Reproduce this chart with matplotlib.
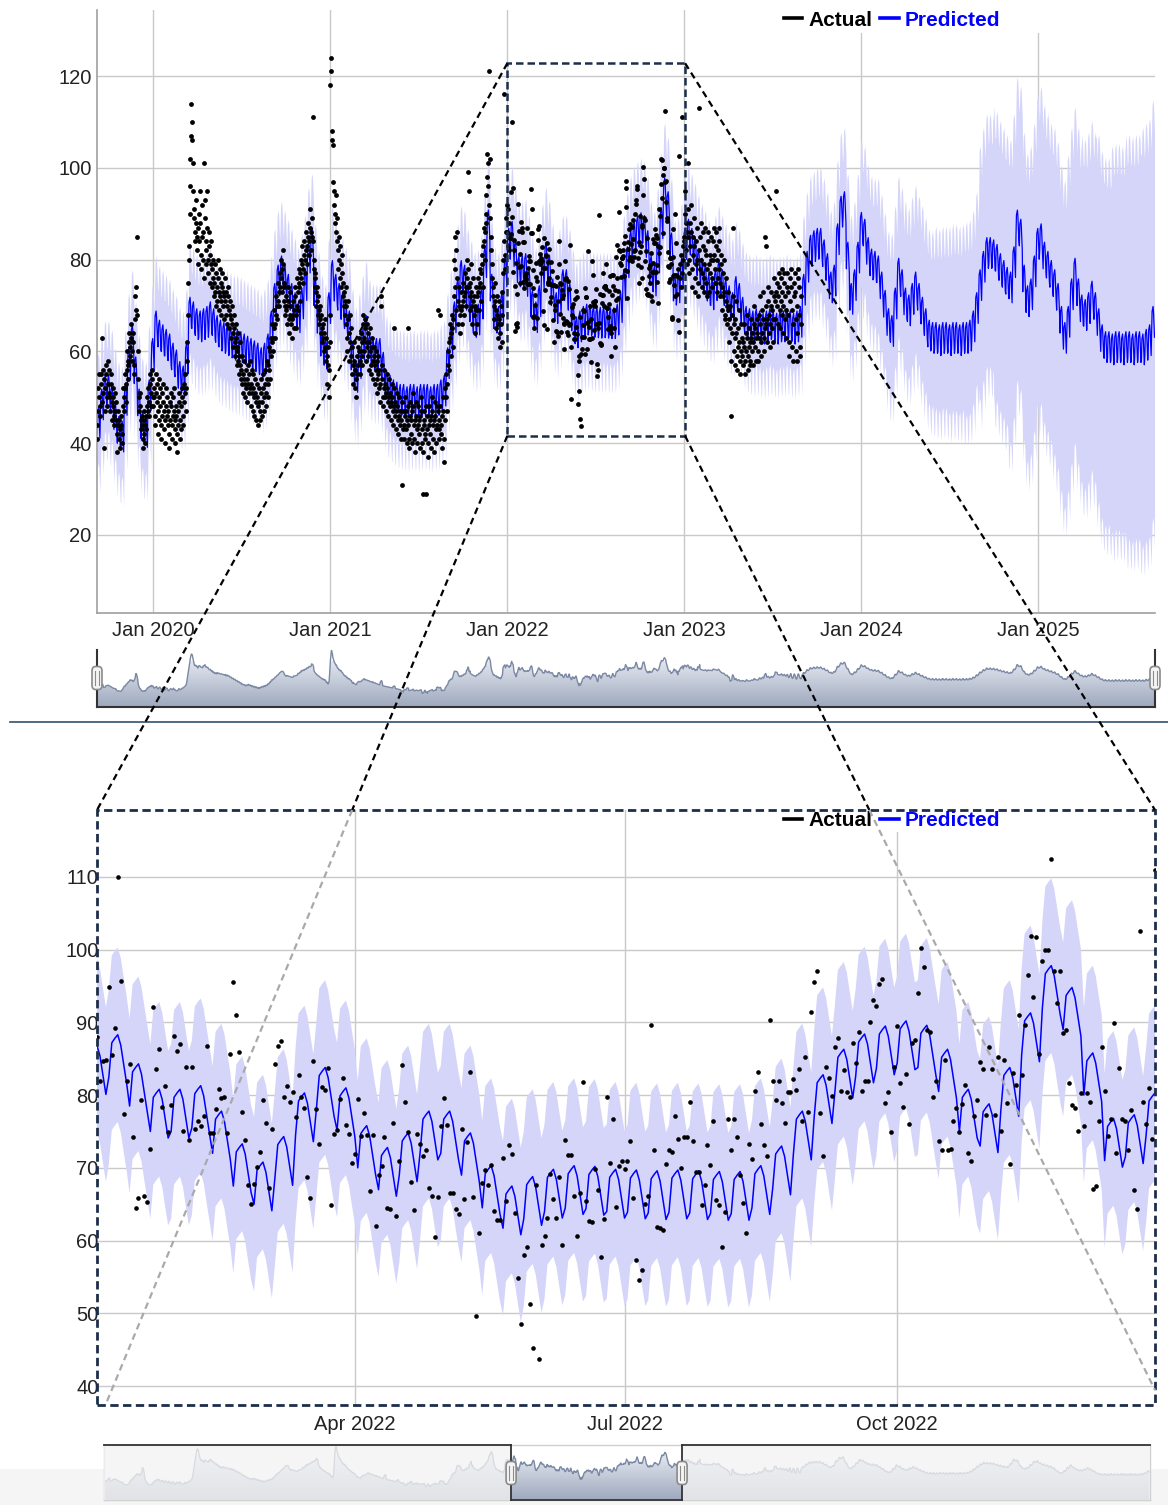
import numpy as np
import pandas as pd
import matplotlib
matplotlib.use("Agg")
import matplotlib.pyplot as plt
import matplotlib.dates as mdates
import matplotlib.transforms as mtransforms
from matplotlib.patches import Rectangle, FancyBboxPatch
from matplotlib.lines import Line2D
from matplotlib.colors import LinearSegmentedColormap

plt.rcParams["font.family"] = ["Liberation Sans", "DejaVu Sans"]

# ---------------- data ----------------
SERIES_START = "2019-09-07"
AXIS_START, AXIS_END = "2019-09-07", "2025-08-30"
ZOOM_START, ZOOM_END = "2022-01-04", "2022-12-27"
BOX_X = ("2022-01-01", "2023-01-03")
BOX_Y = (41.6, 122.8)

# weekly level of the predicted series (one value per week from SERIES_START)
pred_weekly_level = [
    45, 49, 52, 52, 50, 46, 43, 42, 50, 58,
    63, 56, 49, 44, 43, 51, 60, 66, 64, 63,
    62, 61, 59, 57.5, 55, 54, 59, 69, 68, 66.5,
    66, 66.5, 67, 68, 66.5, 65, 64, 63.5, 63, 62.5,
    62, 62, 61.5, 61, 60.5, 60, 59.5, 59, 58, 59,
    61, 66, 72, 76, 78, 76, 74, 72, 70, 68,
    71, 75, 81, 84, 73, 67, 62, 60, 70, 77,
    74, 72, 70, 68, 66, 59, 55, 58, 62, 65,
    61, 60, 60, 60, 57, 53, 52, 51, 50.5, 50,
    50, 49.5, 50, 50, 49.5, 50, 50, 50, 49.5, 50,
    50, 51, 52, 58, 63, 68, 73, 77, 76, 72,
    69.5, 67, 67.5, 71, 80, 88, 74, 68, 67, 70,
    78, 84, 85.5, 81.5, 78, 78, 78.5, 75, 70.5, 68,
    71.5, 77.5, 81, 78.2, 73, 70, 72, 75, 75, 72,
    67.5, 64.7, 66, 67, 67.5, 67.4, 67, 66.9, 66.8, 66.9,
    66.8, 66.7, 66.7, 67.5, 70.2, 75, 80, 83.5, 85.6, 86.7,
    87.4, 86.8, 83.5, 78, 76, 81, 88.5, 95, 92, 83,
    74, 74.5, 77.5, 84, 86, 84, 82, 79.5, 77.5, 76,
    74, 73, 75, 77, 75, 73, 71.5, 70, 73.5, 72,
    69, 67, 66.5, 66, 66.5, 66, 65.5, 66, 66.5, 66,
    65.5, 66, 66, 66.5, 66, 65.5, 66, 67, 74, 79,
    82.5, 83.5, 84, 84, 81.5, 78.5, 74.5, 76, 85, 91,
    92, 81, 72, 75, 81, 87.5, 86, 82, 79.5, 79,
    78, 74.5, 70.5, 66.5, 65, 71, 77.5, 75, 71, 69.5,
    72, 74.5, 72, 69, 66.5, 64, 63.5, 63.5, 63, 63.5,
    63.5, 63, 63.5, 63.5, 63, 63.5, 63.5, 64, 66, 70,
    75, 79, 82, 82, 81.5, 80.5, 78.5, 77, 75.5, 74.5,
    80, 88, 86, 76, 71.5, 73, 78, 84, 85, 81,
    79, 77, 75, 72, 67, 63.5, 67, 73, 77.5, 73,
    69.5, 68.5, 70, 72.5, 70, 66.5, 63, 61.5, 61.5, 61,
    61.5, 61.5, 61, 61.5, 61.5, 61, 61.5, 61.5, 61, 62,
    63, 67,
]
# weekday offsets of the predicted line: Fri, Sat, Sun, Mon, Tue, Wed, Thu
pred_weekday_offset = [-3.9, -3.0, 1.7, 2.3, 2.8, 1.4, -1.3]

# half-widths of the uncertainty band per month (Sep 2019 ... Aug 2025)
band_upper_width = [12.0] * 48 + [13, 13.5, 14, 15, 16, 17, 18, 19, 20, 21, 21.5, 22,
                                  27, 29, 29, 29, 30, 31, 33, 35, 38, 41, 43, 45]
band_lower_width = [12.0] * 48 + [13, 13.5, 14, 15, 16, 16.5, 17, 17.5, 18, 18.5, 19, 20,
                                  28, 34, 37, 38, 39, 40, 40, 41, 42, 43, 45, 46]

# actual daily values
actual_2019 = [  # Sep 7 - Dec 31
    41, 44, 47, 52, 55, 50, 46, 48, 53, 55, 63, 49, 51, 56, 54, 39, 47, 52, 57, 55, 50, 48, 53, 58,
    56, 51, 47, 50, 55, 53, 49, 45, 48, 52, 50, 46, 44, 47, 51, 49, 45, 42, 38, 44, 47, 45, 41, 39, 43, 46, 44, 40, 42, 48, 52,
    50, 47, 52, 55, 53, 49, 56, 60, 58, 54, 57, 62, 64, 59, 61, 66, 63, 58, 60, 64, 62, 57, 55, 67, 72, 69, 74, 85, 68, 60,
    54, 50, 47, 51, 48, 45, 43, 46, 44, 41, 39, 45, 47, 42, 40, 44, 46, 43, 48, 50, 47, 52, 49, 46, 53, 55, 51, 48, 54, 56, 50,
]
actual_2020 = [
    48, 52, 50, 46, 44, 51, 55, 53, 49, 47, 42, 45, 50, 54, 52, 48, 44, 41, 46, 51, 49, 53, 47, 43, 40, 45, 48, 52, 50, 46, 44,
    47, 42, 39, 45, 49, 51, 48, 44, 41, 46, 50, 47, 52, 45, 40, 43, 48, 46, 42, 38, 44, 47, 51, 49, 45, 41, 43, 48, 52,
    50, 46, 44, 49, 53, 55, 51, 47, 52, 58, 62, 68, 75, 80, 83, 90, 96, 102, 107, 114, 110, 106, 101, 95, 89, 91, 86, 84, 88, 93, 85,
    82, 87, 79, 84, 90, 95, 88, 81, 78, 85, 92, 86, 80, 76, 101, 93, 89, 84, 79, 82, 95, 87, 80, 77, 83, 86, 81, 75, 79, 84,
    78, 74, 80, 76, 72, 75, 79, 73, 70, 77, 74, 71, 76, 80, 73, 69, 72, 78, 75, 71, 68, 74, 77, 73, 70, 67, 72, 76, 71, 68, 73,
    70, 66, 72, 74, 69, 65, 68, 71, 67, 63, 66, 70, 64, 61, 65, 68, 62, 59, 63, 66, 60, 57, 61, 64, 58, 55, 59, 62, 57, 54,
    56, 59, 53, 51, 55, 58, 54, 50, 53, 56, 52, 49, 54, 57, 53, 51, 55, 58, 52, 48, 53, 56, 51, 47, 52, 55, 50, 46, 51, 54, 49,
    45, 50, 53, 48, 44, 49, 52, 47, 45, 51, 54, 49, 46, 52, 55, 50, 47, 53, 56, 51, 48, 54, 58, 53, 50, 57, 61, 56, 54, 60, 63,
    59, 62, 66, 63, 60, 65, 69, 66, 63, 68, 72, 70, 67, 71, 75, 73, 70, 74, 77, 80, 76, 73, 78, 82, 79, 75, 71, 74, 70, 68,
    72, 69, 66, 70, 74, 71, 67, 64, 68, 73, 70, 66, 63, 67, 71, 68, 65, 69, 74, 72, 68, 65, 70, 76, 73, 69, 75, 78, 74, 71, 77,
    80, 76, 79, 83, 78, 75, 81, 84, 80, 77, 82, 86, 83, 79, 85, 88, 84, 81, 87, 91, 86, 82, 85, 89, 111, 84, 80, 78, 76, 74,
    77, 73, 70, 74, 71, 68, 72, 69, 66, 70, 67, 64, 68, 65, 62, 66, 63, 60, 64, 67, 61, 58, 63, 59, 53, 57, 61, 50, 56, 62, 68,
]
actual_2021 = [
    118, 124, 121, 108, 106, 97, 105, 92, 95, 88, 90, 94, 86, 84, 89, 82, 78, 85, 80, 76, 83, 79, 74, 81, 77, 72, 75, 70, 73, 68, 71,
    66, 70, 74, 63, 60, 67, 71, 64, 58, 62, 68, 65, 59, 55, 61, 57, 53, 58, 62, 56, 52, 50, 54, 59, 55, 57, 61, 60,
    63, 58, 55, 60, 64, 62, 57, 59, 66, 68, 63, 60, 65, 67, 62, 58, 61, 66, 64, 59, 56, 62, 65, 60, 57, 55, 61, 63, 58, 54, 59,
    61, 57, 53, 56, 60, 58, 54, 51, 55, 59, 56, 52, 49, 53, 70, 72, 57, 54, 50, 48, 52, 56, 53, 50, 47, 51, 55, 52, 49, 46,
    50, 54, 51, 48, 45, 49, 53, 50, 47, 44, 48, 65, 52, 49, 46, 43, 47, 51, 48, 45, 42, 46, 50, 47, 44, 41, 45, 49, 31, 43, 47,
    44, 41, 46, 50, 47, 43, 40, 45, 65, 48, 44, 41, 39, 46, 49, 45, 42, 40, 47, 51, 48, 44, 41, 38, 45, 49, 46, 43, 40, 44,
    48, 45, 42, 39, 46, 50, 47, 43, 40, 38, 29, 44, 47, 45, 41, 42, 48, 29, 46, 43, 40, 37, 44, 48, 45, 42, 39, 46, 50, 47, 44,
    41, 38, 45, 49, 46, 43, 40, 44, 48, 69, 47, 43, 41, 45, 68, 48, 44, 42, 39, 46, 50, 47, 36, 41, 45, 52, 55, 50, 47, 53, 57,
    60, 56, 62, 66, 63, 59, 64, 68, 65, 61, 67, 72, 80, 85, 78, 74, 69, 82, 86, 76, 71, 66, 70, 74, 68, 64, 69, 73, 70, 66,
    71, 75, 72, 68, 73, 77, 74, 70, 76, 80, 99, 78, 74, 95, 72, 69, 75, 79, 73, 70, 66, 71, 76, 72, 68, 64, 70, 74, 69, 66, 72,
    76, 73, 69, 74, 78, 75, 71, 77, 81, 79, 74, 83, 87, 84, 80, 86, 90, 88, 94, 98, 103, 96, 101, 92, 121, 102, 89, 85, 82, 79,
    76, 72, 74, 70, 67, 71, 75, 69, 65, 68, 72, 66, 63, 67, 71, 64, 61, 66, 70, 62, 68, 73, 77, 80, 116, 84, 78, 81, 86, 89, 92,
]
actual_2022 = [
    86, 91, 83, 88, 82,
    84.7, 84.8, 94.8, 85.5, 89.2, 110, 95.7, 77.4, 82, 84.3,
    74.3, 64.5, 65.9, 79.3, 66.1, 65.3, 72.6, 92.1, 83.6, 86.3,
    78.4, 81.3, 75, 78.6, 88.1, 86.1, 87, 75.1, 83.8, 73.9,
    83.9, 75.4, 76.4, 75.8, 77.1, 86.8, 74.8, 74.8, 78.1, 80.9,
    79.6, 79.8, 74.8, 85.7, 95.5, 91, 85.9, 77.7, 73.8, 67.6,
    65, 67.8, 70.1, 72.2, 79.3, 76.2, 67.2, 75.3, 84.3, 86.7,
    87.4, 79.8, 81.3, 79, 80.4, 77, 82.8, 79.8, 78.2, 68.7,
    65.8, 84.7, 78.1, 73.3, 81.1, 80.7, 83.7, 64.9, 74.6, 75.2,
    79.4, 82.3, 75.9, 74.7, 70.7, 71.9, 79.4, 74.4, 77.5, 74.5,
    66.8, 74.5, 62, 69, 70.2, 74.2, 64.5, 64.3, 76.2, 63.4,
    71, 84.1, 79, 75, 68.1, 64.2, 74.7, 73.3, 71.7, 72.4,
    67.3, 66.2, 60.5, 66, 75.8, 79.6, 75.9, 66.6, 66.5, 64.3,
    63.6, 75.4, 65.7, 73.5, 83.2, 66, 49.6, 61, 67.9, 69.7,
    67.6, 70.4, 64.1, 62.8, 62.8, 71.4, 65.4, 73.2, 71.9, 63.8,
    54.8, 48.5, 58, 59.1, 51.3, 45.2, 67.6, 43.7, 59.4, 60.6,
    63.1, 69.1, 65.7, 63.1, 68.8, 59.4, 73.9, 71.8, 71.8, 66.2,
    60.6, 66.5, 81.8, 65.4, 62.7, 62.6, 69.8, 67, 57.8, 63,
    79.7, 70.7,
    76.7, 64.6, 70.2, 70.9, 69.9, 70.9, 73.7, 65.9, 57.3, 54.6,
    55.9, 65, 66.1, 89.7, 72.5, 61.9, 61.7, 61.4, 70.6, 72.4,
    72.2, 77.1, 74, 70, 74.2, 74.2, 79, 73.7, 69.4, 69.4,
    64.9, 67.6, 73.2, 70.4, 76.5, 65.6, 64.9, 59.1, 64, 76.7,
    72.4, 76.7, 74.2, 69, 65.2, 61, 73.3, 71.2, 80.6, 83.2,
    76, 73.2, 71.7, 90.3, 82, 79.3, 81.9, 78.9, 76.2, 80.4,
    80.4, 82.2, 80.7, 83.6, 76.5, 85.2, 77.7, 91.4, 95.6, 97.1,
    77.6, 71.7, 83.9, 82.4, 79.9, 86.6, 87.8, 80.6, 83.5, 80.4,
    79.8, 87.1, 84.4, 88.7, 80.5, 81.9, 82, 90, 93.1, 92.2,
    95.3, 96, 78.9, 80.4, 74.9, 83.9, 89.5, 81.6, 78.4, 82.9,
    76, 87.1, 87.6, 94, 100.2, 97.6, 89, 88.7, 79.8, 81.9,
    73.7, 72.5, 84.8, 72.4, 72.6, 76.5, 78.2, 74.9, 78.8, 81.4,
    72.1, 70.9, 77.2, 79.3, 84.5, 83.6, 77.3, 86.6, 83.6, 77.3,
    85.3, 75.1, 84.8, 78.9, 70.5, 83, 81.4, 91, 82.8, 89.6,
    96.5, 101.9, 93.5, 101.8, 85.7, 98.4, 99.9, 100, 112.4, 97,
    92.6, 97.1, 88.5, 89, 81.6, 78.6, 78.3, 75.1, 80.3, 75.7,
    80.3, 79, 67.1, 67.5, 76.5, 86.6, 80.6, 74.4, 76.7, 89.9,
    72.1, 83.7, 76.7, 76.5, 72.5, 78, 66.9, 64.3, 102.6,
    79, 76, 81, 74, 111, 77, 83, 80, 85,
]
actual_2023 = [  # Jan 1 - Aug 31
    84, 90, 95, 88, 82, 79, 86, 91, 101, 85, 80, 77, 83, 88, 92, 86, 78, 74, 81, 85, 89, 83, 76, 73, 79, 84, 87, 80, 75, 72, 113,
    82, 78, 85, 88, 80, 74, 77, 83, 86, 79, 73, 76, 82, 87, 81, 75, 72, 78, 84, 86, 79, 73, 77, 81, 85, 80, 74, 76,
    80, 84, 87, 81, 75, 78, 83, 86, 80, 73, 76, 82, 87, 84, 78, 72, 75, 81, 79, 74, 69, 72, 77, 80, 73, 68, 67, 71, 76, 70, 66,
    69, 73, 67, 62, 65, 70, 58, 46, 64, 68, 72, 87, 66, 60, 57, 63, 67, 71, 64, 59, 56, 61, 65, 69, 62, 58, 55, 60, 66, 63,
    59, 57, 62, 66, 61, 58, 55, 60, 64, 68, 63, 59, 56, 61, 65, 62, 58, 57, 63, 67, 64, 60, 57, 62, 66, 70, 65, 61, 58, 63, 67,
    64, 60, 58, 63, 68, 72, 66, 62, 59, 64, 69, 73, 67, 63, 60, 65, 85, 83, 70, 66, 62, 67, 71, 74, 68, 64, 61, 66, 70, 73,
    69, 65, 62, 67, 72, 76, 71, 67, 73, 95, 75, 70, 66, 72, 77, 74, 69, 65, 71, 76, 78, 73, 68, 64, 70, 75, 77, 72, 67, 63, 69,
    74, 77, 73, 68, 62, 59, 71, 76, 78, 74, 69, 61, 58, 66, 72, 75, 77, 73, 67, 60, 58, 64, 70, 76, 78, 74, 68, 61, 59, 66, 72,
]

top_yticks = [20, 40, 60, 80, 100, 120]
top_xtick_labels = ["Jan 2020", "Jan 2021", "Jan 2022", "Jan 2023", "Jan 2024", "Jan 2025"]
zoom_yticks = [40, 50, 60, 70, 80, 90, 100, 110]
zoom_xtick_labels = ["Apr 2022", "Jul 2022", "Oct 2022"]
legend_labels = ["Actual", "Predicted"]

# ---------------- derived series ----------------
n_days = 7 * len(pred_weekly_level)
dates = pd.date_range(SERIES_START, periods=n_days, freq="D")
level = np.repeat(np.asarray(pred_weekly_level, float), 7)
pred = level + np.asarray(pred_weekday_offset)[(dates.dayofweek.values - 4) % 7]
midx = (dates.year.values - 2019) * 12 + dates.month.values - 9
upper = pred + np.asarray(band_upper_width)[midx]
lower = pred - np.asarray(band_lower_width)[midx]
actual = np.concatenate([actual_2019, actual_2020, actual_2021, actual_2022, actual_2023]).astype(float)
adates = dates[:len(actual)]
# navigator series: actual where available, forecast afterwards, grouped over a few days
slider_vals = pd.Series(np.concatenate([actual, pred[len(actual):]])).rolling(
    5, center=True, min_periods=1).mean().values

# ---------------- figure ----------------
W, H = 1168, 1505
fig = plt.figure(figsize=(W / 100, H / 100), dpi=100)
BAND = "#d5d5fa"
BLUE = "#0000ff"
NAVY = "#1c2e4a"
GRID = "#c9c9c9"
TXT = "#222222"


def fbox(x0, y0, x1, y1):
    return [x0 / W, 1 - y1 / H, (x1 - x0) / W, (y1 - y0) / H]


def fpt(x, y):
    return (x / W, 1 - y / H)


# light strip at the very bottom of the screenshot
fig.add_artist(Rectangle((0, 0), 1, 36 / H, transform=fig.transFigure,
                         fc="#f5f5f5", ec="none", zorder=-5))

ax = fig.add_axes(fbox(97, 10, 1155, 613))
sax = fig.add_axes(fbox(97, 650, 1155, 707))
bx = fig.add_axes(fbox(97, 810, 1155, 1405))
bsax = fig.add_axes(fbox(104, 1445, 1150, 1500))


def draw_main(a, ms, lw):
    a.fill_between(dates, lower, upper, color=BAND, lw=0, zorder=1)
    a.plot(dates, pred, color=BLUE, lw=lw, zorder=2)
    a.scatter(adates, actual, s=ms, color="black", lw=0, zorder=3)
    a.set_axisbelow(True)
    a.grid(True, color=GRID, lw=1)
    for s in ["top", "right"]:
        a.spines[s].set_visible(False)
    a.tick_params(length=0, labelsize=14.5, labelcolor=TXT)


def add_legend(a, cx, cy):
    h = [Line2D([], [], color="black", lw=2.6), Line2D([], [], color=BLUE, lw=2.6)]
    leg = a.legend(h, legend_labels, loc="center", bbox_to_anchor=fpt(cx, cy),
                   bbox_transform=fig.transFigure, ncol=2, frameon=False,
                   handlelength=0.9, handletextpad=0.3, columnspacing=0.35,
                   borderpad=0, prop={"weight": "bold", "size": 15})
    leg.get_texts()[1].set_color(BLUE)
    leg.set_zorder(20)


# ---- top panel ----
draw_main(ax, 12, 0.9)
ax.set_xlim(pd.Timestamp(AXIS_START), pd.Timestamp(AXIS_END))
ax.set_ylim(3, 134.4)
ax.set_yticks(top_yticks)
ax.set_xticks([pd.to_datetime(t, format="%b %Y") for t in top_xtick_labels])
ax.set_xticklabels(top_xtick_labels)
ax.tick_params(axis="x", pad=6)
ax.tick_params(axis="y", pad=4)
for s in ["left", "bottom"]:
    ax.spines[s].set_color("#a0a0a0")
    ax.spines[s].set_linewidth(1.2)
ax.add_patch(Rectangle(fpt(700, 33), 460 / W, 24 / H, transform=fig.transFigure,
                       fc="white", ec="none", zorder=0.8, clip_on=False))
add_legend(ax, 892, 20)
bx0 = mdates.date2num(pd.Timestamp(BOX_X[0]))
bx1 = mdates.date2num(pd.Timestamp(BOX_X[1]))
ax.add_patch(Rectangle((bx0, BOX_Y[0]), bx1 - bx0, BOX_Y[1] - BOX_Y[0], fill=False,
                       ec=NAVY, lw=1.8, ls=(0, (3, 1.6)), zorder=6))

# ---- bottom (zoomed) panel ----
draw_main(bx, 11, 1.1)
bx.set_xlim(pd.Timestamp(ZOOM_START), pd.Timestamp(ZOOM_END))
bx.set_ylim(37.4, 119.2)
bx.set_yticks(zoom_yticks)
bx.set_xticks([pd.to_datetime(t, format="%b %Y") for t in zoom_xtick_labels])
bx.set_xticklabels(zoom_xtick_labels)
bx.tick_params(axis="x", pad=7)
bx.tick_params(axis="y", pad=-1)
for s in ["left", "bottom"]:
    bx.spines[s].set_visible(False)
bx.add_patch(Rectangle(fpt(700, 832), 452 / W, 21 / H, transform=fig.transFigure,
                       fc="white", ec="none", zorder=0.8, clip_on=False))
add_legend(bx, 892, 821)
bx.add_patch(Rectangle((0, 0), 1, 1, transform=bx.transAxes, fill=False, ec=NAVY,
                       lw=2.0, ls=(0, (3, 1.6)), clip_on=False, zorder=10))

# ---- range sliders ----
cmap = LinearSegmentedColormap.from_list("nav", ["#9ea9be", "#e2e6ee"])
xs = mdates.date2num(dates)
SL_Y = (15, 115)


def draw_slider(a):
    poly = a.fill_between(xs, slider_vals, SL_Y[0], color="none", lw=0)
    grad = np.linspace(0, 1, 256).reshape(-1, 1)
    im = a.imshow(grad, extent=[xs[0], xs[-1], SL_Y[0], 95], origin="lower",
                  aspect="auto", cmap=cmap, zorder=1)
    im.set_clip_path(poly.get_paths()[0], transform=a.transData)
    a.plot(xs, slider_vals, color="#7b89a5", lw=1.0, zorder=2)
    a.set_xlim(mdates.date2num(pd.Timestamp(AXIS_START)), mdates.date2num(pd.Timestamp(AXIS_END)))
    a.set_ylim(*SL_Y)
    a.set_xticks([])
    a.set_yticks([])


draw_slider(sax)
sax.spines["top"].set_visible(False)
for s in ["left", "right", "bottom"]:
    sax.spines[s].set_color("#333333")
    sax.spines[s].set_linewidth(1.5)

draw_slider(bsax)
for s in bsax.spines.values():
    s.set_color("#d0d0d0")
    s.set_linewidth(1.0)
blend = mtransforms.blended_transform_factory(bsax.transData, bsax.transAxes)
s0 = mdates.date2num(pd.Timestamp(ZOOM_START))
s1 = mdates.date2num(pd.Timestamp(ZOOM_END))
xl0, xl1 = bsax.get_xlim()
for a0, a1 in [(xl0, s0), (s1, xl1)]:
    bsax.add_patch(Rectangle((a0, 0), a1 - a0, 1, transform=blend, fc="#f3f3f3",
                             ec="none", alpha=0.78, zorder=5))
    bsax.add_line(Line2D([a0, a1], [1, 1], transform=blend, color="#333333",
                         lw=1.3, zorder=6, clip_on=False))
for sx in [s0, s1]:
    bsax.add_line(Line2D([sx, sx], [0, 1], transform=blend, color="#333333",
                         lw=1.3, zorder=6, clip_on=False))
bsax.add_line(Line2D([s0, s1], [0, 0], transform=blend, color="#333333",
                     lw=1.3, zorder=6, clip_on=False))


def handle(cx, cy, w=10, h=23):
    fig.add_artist(FancyBboxPatch(fpt(cx - w / 2, cy + h / 2), w / W, h / H,
                                  boxstyle="round,pad=0,rounding_size=0.003",
                                  transform=fig.transFigure, fc="#f4f4f4",
                                  ec="#8a8a8a", lw=1.2, zorder=30))
    for dx in (-1.6, 1.6):
        fig.add_artist(Line2D([(cx + dx) / W] * 2, [1 - (cy - 7) / H, 1 - (cy + 7) / H],
                              transform=fig.transFigure, color="#8a8a8a", lw=0.8, zorder=31))


for a, xv, cy in [(sax, mdates.date2num(pd.Timestamp(AXIS_START)), 678),
                  (sax, mdates.date2num(pd.Timestamp(AXIS_END)), 678),
                  (bsax, s0, 1473), (bsax, s1, 1473)]:
    px = a.transData.transform((xv, 50))[0]
    handle(px * W / fig.bbox.width, cy)

# separator line
fig.add_artist(Line2D([10 / W, 1], [1 - 722 / H] * 2, transform=fig.transFigure,
                      color="#34506f", lw=1.2))

# ---- zoom connector lines ----
inv = fig.transFigure.inverted()
TL = ax.transData.transform((bx0, BOX_Y[1]))
TR = ax.transData.transform((bx1, BOX_Y[1]))
BL = ax.transData.transform((bx0, BOX_Y[0]))
BR = ax.transData.transform((bx1, BOX_Y[0]))
zTL = bx.transAxes.transform((0, 1))
zTR = bx.transAxes.transform((1, 1))
zBL = bx.transAxes.transform((0.008, 0.0))
zBR = bx.transAxes.transform((1.0, 0.025))
ztop = zTL[1]


def seg(p, q, color):
    a_ = inv.transform(p)
    b_ = inv.transform(q)
    fig.add_artist(Line2D([a_[0], b_[0]], [a_[1], b_[1]], transform=fig.transFigure,
                          color=color, lw=1.6, ls=(0, (3, 2)), zorder=25))


seg(TL, zTL, "black")
seg(TR, zTR, "black")
for p, q in [(BL, zBL), (BR, zBR)]:
    t = (ztop - p[1]) / (q[1] - p[1])
    mid = (p[0] + t * (q[0] - p[0]), ztop)
    seg(p, mid, "black")
    seg(mid, q, "#a9a9a9")

fig.savefig("out.png", dpi=100)
